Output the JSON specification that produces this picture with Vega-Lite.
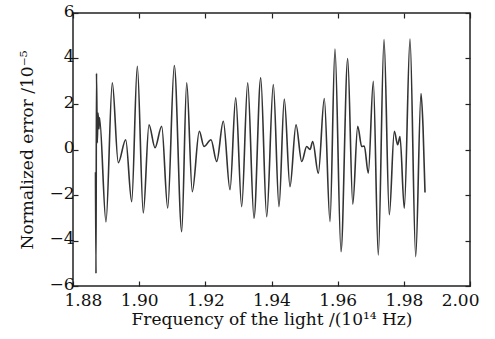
{
  "$schema": "https://vega.github.io/schema/vega-lite/v6.json",
  "autosize": "none",
  "width": 397,
  "height": 273,
  "padding": {"left": 73, "top": 13, "right": 25, "bottom": 53},
  "background": "white",
  "config": {
    "font": "DejaVu Serif",
    "view": {"stroke": "#222", "strokeWidth": 1.5},
    "axis": {
      "labelFont": "DejaVu Serif",
      "titleFont": "DejaVu Serif",
      "labelFontSize": 17,
      "titleFontSize": 17,
      "titleFontWeight": "normal",
      "labelColor": "#111",
      "titleColor": "#111",
      "labelFlush": false,
      "labelOverlap": false,
      "grid": false,
      "domain": false,
      "tickColor": "#222",
      "tickSize": -5,
      "tickWidth": 1.2
    }
  },
  "data": {
    "values": [
      {"f": 1.88680, "e": -1.0},
      {"f": 1.88695, "e": -5.45},
      {"f": 1.88710, "e": 3.35},
      {"f": 1.88735, "e": 0.3},
      {"f": 1.88756, "e": 1.6},
      {"f": 1.88786, "e": 0.9},
      {"f": 1.88801, "e": 1.4},
      {"f": 1.88997, "e": -3.18},
      {"f": 1.89188, "e": 2.93},
      {"f": 1.89369, "e": -0.58},
      {"f": 1.89593, "e": 0.43},
      {"f": 1.89774, "e": -2.29},
      {"f": 1.89944, "e": 3.66},
      {"f": 1.90125, "e": -2.79},
      {"f": 1.90297, "e": 1.09},
      {"f": 1.90479, "e": 0.08},
      {"f": 1.90681, "e": 1.02},
      {"f": 1.90863, "e": -2.57},
      {"f": 1.91062, "e": 3.69},
      {"f": 1.91286, "e": -3.61},
      {"f": 1.91437, "e": 2.93},
      {"f": 1.91606, "e": -1.85},
      {"f": 1.91818, "e": 0.8},
      {"f": 1.91960, "e": 0.13},
      {"f": 1.92171, "e": 0.43},
      {"f": 1.92344, "e": -0.53},
      {"f": 1.92543, "e": 1.24},
      {"f": 1.92746, "e": -1.77},
      {"f": 1.92918, "e": 2.27},
      {"f": 1.93099, "e": -2.51},
      {"f": 1.93281, "e": 2.93},
      {"f": 1.93471, "e": -3.02},
      {"f": 1.93674, "e": 3.15},
      {"f": 1.93855, "e": -2.95},
      {"f": 1.94055, "e": 2.85},
      {"f": 1.94227, "e": -2.51},
      {"f": 1.94387, "e": 2.22},
      {"f": 1.94559, "e": -1.63},
      {"f": 1.94741, "e": 1.09},
      {"f": 1.94913, "e": -0.53},
      {"f": 1.95064, "e": 0.13},
      {"f": 1.95164, "e": 0.0},
      {"f": 1.95245, "e": 0.35},
      {"f": 1.95415, "e": -1.04},
      {"f": 1.95596, "e": 2.24},
      {"f": 1.95768, "e": -3.17},
      {"f": 1.95919, "e": 4.42},
      {"f": 1.96101, "e": -4.49},
      {"f": 1.96303, "e": 4.0},
      {"f": 1.96457, "e": -2.4},
      {"f": 1.96606, "e": 1.02},
      {"f": 1.96727, "e": 0.13},
      {"f": 1.96805, "e": 0.15},
      {"f": 1.96926, "e": -1.04},
      {"f": 1.97077, "e": 3.0},
      {"f": 1.97228, "e": -4.64},
      {"f": 1.97401, "e": 4.83},
      {"f": 1.97561, "e": -2.87},
      {"f": 1.97712, "e": 0.8},
      {"f": 1.97815, "e": 0.21},
      {"f": 1.97884, "e": 0.57},
      {"f": 1.98014, "e": -2.58},
      {"f": 1.98187, "e": 4.86},
      {"f": 1.98359, "e": -4.71},
      {"f": 1.98519, "e": 2.46},
      {"f": 1.98580, "e": 1.0},
      {"f": 1.98640, "e": -1.89}
    ]
  },
  "layer": [
    {
      "mark": {"type": "line", "color": "#333", "strokeWidth": 1.6, "interpolate": "monotone"},
      "encoding": {
        "x": {
          "field": "f", "type": "quantitative",
          "scale": {"domain": [1.88, 2.0], "nice": false, "zero": false},
          "axis": {"values": [1.88, 1.90, 1.92, 1.94, 1.96, 1.98, 2.00], "format": ".2f",
                   "labelFlush": true, "labelFlushOffset": 9,
                   "title": "Frequency of the light /(10¹⁴ Hz)", "labelPadding": 11, "titlePadding": 3}
        },
        "y": {
          "field": "e", "type": "quantitative",
          "scale": {"domain": [-6, 6], "nice": false},
          "axis": {"values": [-6, -4, -2, 0, 2, 4, 6], "title": "Normalized error /10⁻⁵",
                   "labelPadding": 4, "titlePadding": 12, "labelOffset": -2}
        }
      }
    },
    {
      "mark": {"type": "line", "opacity": 0},
      "encoding": {
        "x": {
          "field": "f", "type": "quantitative",
          "axis": {"orient": "top", "values": [1.88, 1.90, 1.92, 1.94, 1.96, 1.98, 2.00], "labels": false, "title": null}
        },
        "y": {
          "field": "e", "type": "quantitative",
          "axis": {"orient": "right", "values": [-6, -4, -2, 0, 2, 4, 6], "labels": false, "title": null}
        }
      }
    }
  ],
  "resolve": {"axis": {"x": "independent", "y": "independent"}}
}
